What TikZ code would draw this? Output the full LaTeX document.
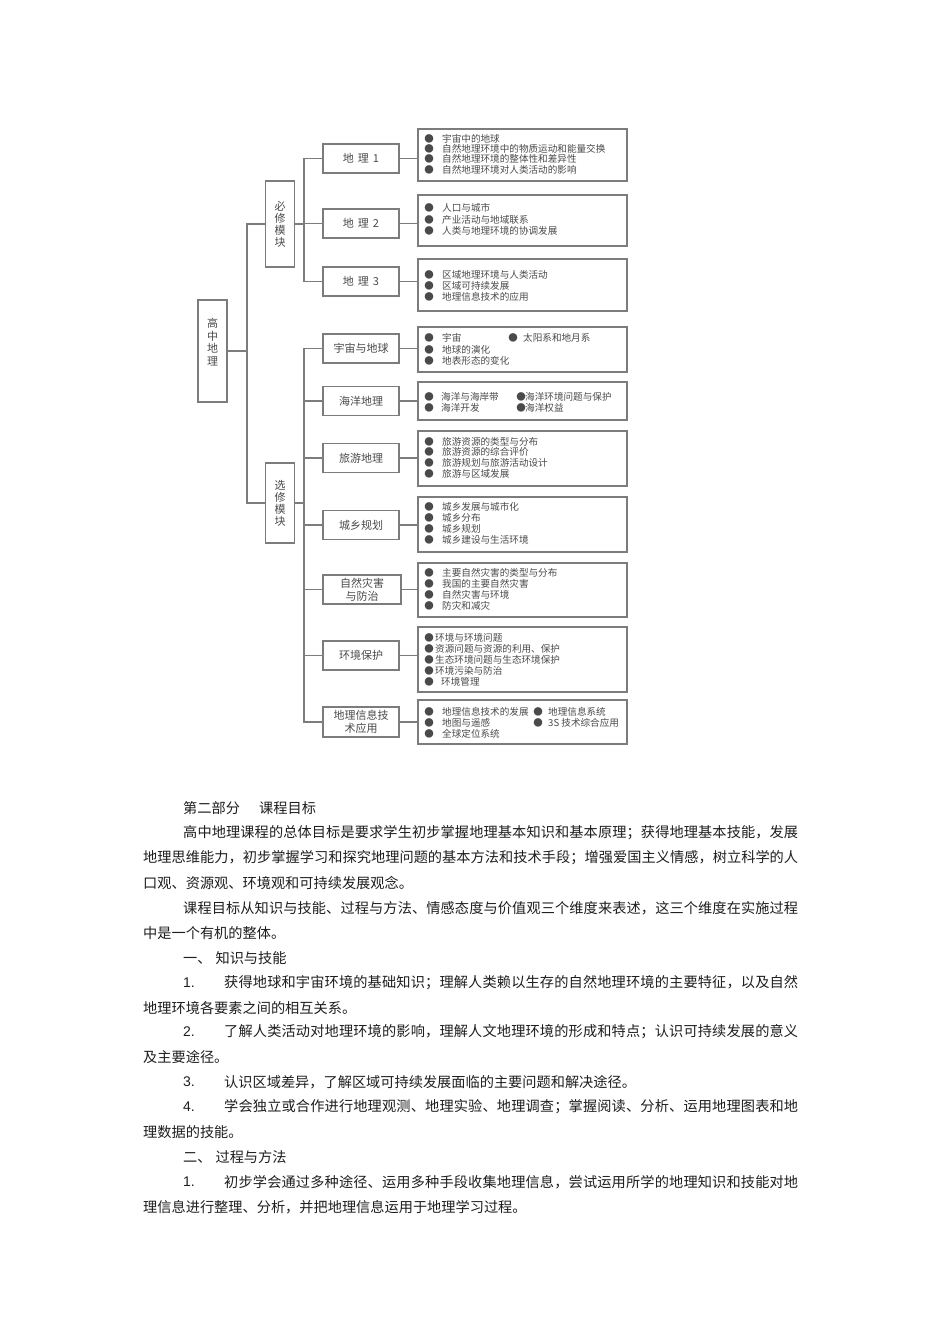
\documentclass[tikz,border=0pt]{standalone}
\usepackage{fontspec}
\setmainfont{Noto Sans CJK SC}
\newfontfamily\numfont{Liberation Sans}

\definecolor{linegray}{HTML}{7C7C7C}
\definecolor{boxtext}{HTML}{4A4A4A}
\definecolor{bodytext}{HTML}{1E1E1E}

% one line of text spread over a given width
\ExplSyntaxOn
\cs_new_protected:Npn \geo_spread:nn #1#2
  { \hbox_to_wd:nn {#1} { \tl_map_inline:nn {#2} { ##1 \hfil } \unskip } }
\cs_generate_variant:Nn \geo_spread:nn { no }
\NewDocumentCommand \spreadline { m m } { \geo_spread:no {#1} {#2} }
\ExplSyntaxOff

\begin{document}
\begin{tikzpicture}[x=1pt, y=-1pt,
  every node/.style={inner sep=0pt},
  frame/.style={draw=linegray, line width=1.2pt, text=boxtext, align=center},
  vbox/.style={frame, minimum width=29pt, font=\fontsize{11}{12}\selectfont},
  module/.style={frame, minimum width=76pt, minimum height=29pt, font=\fontsize{11}{13}\selectfont},
  listbox/.style={draw=linegray, line width=1.2pt, minimum width=209pt},
  dot/.style={text=boxtext, font=\fontsize{9.5}{9.5}\selectfont},
  item/.style={anchor=west, text=boxtext, font=\fontsize{9.6}{10}\selectfont},
  link/.style={draw=linegray, line width=1.2pt},
  body/.style={anchor=west, text=bodytext, font=\fontsize{14.2}{16}\selectfont}]

  \fill[white] (0,0) rectangle (950,1344);
  \useasboundingbox (0,0) rectangle (950,1344);

  % root and the two groups
  \node[vbox, minimum height=102pt] (gz) at (212.5,351) {};
  \node[text=boxtext, align=center, font=\fontsize{11}{12.7}\selectfont] (gz-text) at (212.5,342) {高\\中\\地\\理};
  \node[vbox, minimum height=86pt] (bx) at (280,224) {必\\修\\模\\块};
  \node[vbox, minimum height=80pt] (xx) at (280,503) {选\\修\\模\\块};
  \coordinate (t1) at (247,0);
  \coordinate (t2) at (304,0);

  % modules
  \foreach \n/\y/\t in {dl1/158.5/地\hspace{4pt}理\hspace{4pt}1, dl2/223.5/地\hspace{4pt}理\hspace{4pt}2,
      dl3/281.5/地\hspace{4pt}理\hspace{4pt}3}
    \node[module] (\n) at (361,\y) {\t};
  \foreach \n/\y/\t in {yzdq/348.5/宇宙与地球, hydl/401/海洋地理, lydl/458/旅游地理, cxgh/525/城乡规划,
      hjbh/655.5/环境保护}
    \node[module] (\n) at (361,\y) {\t};
  \node[module, minimum width=78pt] (zrzh) at (362,589.5) {自然灾害\\与防治};
  \node[module, minimum height=30pt] (dlxx) at (361,722) {地理信息技\\术应用};

  % content boxes
  \foreach \n/\y/\h in {dl1/155/52, dl2/220.5/51, dl3/285/52, yzdq/349.5/45, hydl/401/38,
      lydl/458.5/55, cxgh/524.5/55, zrzh/590/54, hjbh/659.5/65, dlxx/722/44}
    \node[listbox, minimum height=\h] (\n-list) at (522.5,\y) {};

  % connectors
  \draw[link] (bx.west) -- (bx.west -| t1) |- (gz.east);
  \draw[link] (xx.west) -- (xx.west -| t1) |- (gz.east);
  \foreach \n in {dl1,dl2,dl3}
    \draw[link] (\n.west) -- (\n.west -| t2) |- (bx.east);
  \foreach \n in {yzdq,hydl,lydl,cxgh,zrzh,hjbh,dlxx}
    \draw[link] (\n.west) -- (\n.west -| t2) |- (xx.east);
  \foreach \n in {dl1,dl2,dl3,yzdq,hydl,lydl,cxgh,zrzh,hjbh,dlxx}
    \draw[link] (\n.east) -- (\n.east -| \n-list.west);

  % list items
  \foreach \bx/\tx/\y/\t [count=\i] in {
      429/442/139/宇宙中的地球, 429/442/149/自然地理环境中的物质运动和能量交换,
      429/442/159/自然地理环境的整体性和差异性, 429/442/170/自然地理环境对人类活动的影响,
      429/442/208/人口与城市, 429/442/220/产业活动与地域联系, 429/442/231/人类与地理环境的协调发展,
      429/442/275/区域地理环境与人类活动, 429/442/286/区域可持续发展, 429/442/297/地理信息技术的应用,
      429/442/338/宇宙, 513/523/338/太阳系和地月系, 429/442/350/地球的演化, 429/442/361/地表形态的变化,
      429/441/397/海洋与海岸带, 521/525/397/海洋环境问题与保护, 429/441/408/海洋开发, 521/525/408/海洋权益,
      429/442/442/旅游资源的类型与分布, 429/442/452/旅游资源的综合评价,
      429/442/463/旅游规划与旅游活动设计, 429/442/474/旅游与区域发展,
      429/442/507/城乡发展与城市化, 429/442/518/城乡分布, 429/442/529/城乡规划, 429/442/540/城乡建设与生活环境,
      429/442/573/主要自然灾害的类型与分布, 429/442/584/我国的主要自然灾害,
      429/442/595/自然灾害与环境, 429/442/606/防灾和减灾,
      429/435/638/环境与环境问题, 429/435/649/资源问题与资源的利用、保护,
      429/435/660/生态环境问题与生态环境保护, 429/435/671/环境污染与防治, 429/441/682/环境管理,
      429/442/712/地理信息技术的发展, 538/548/712/地理信息系统,
      429/442/723/地图与遥感, 538/548/723/3S 技术综合应用, 429/442/734/全球定位系统} {
    \node[dot] (b\i) at (\bx,\y) {●};
    \node[item] (i\i) at (\tx,\y) {\t};
  }

  % text below the chart
  \foreach \x/\y/\t [count=\i] in {183/808/第二部分, 259/808/课程目标,
      143/883/口观、资源观、环境观和可持续发展观念。, 143/933/中是一个有机的整体。,
      183/958/一、\hspace{4pt}知识与技能, 143/1008/地理环境各要素之间的相互关系。,
      143/1057/及主要途径。, 224/1082/认识区域差异，了解区域可持续发展面临的主要问题和解决途径。,
      143/1132/理数据的技能。, 183/1157/二、\hspace{4pt}过程与方法,
      143/1207/理信息进行整理、分析，并把地理信息运用于地理学习过程。}
    \node[body] (p\i) at (\x,\y) {\t};
  \foreach \x/\y/\t [count=\i] in {
      183/833/高中地理课程的总体目标是要求学生初步掌握地理基本知识和基本原理；获得地理基本技能，发展,
      143/858/地理思维能力，初步掌握学习和探究地理问题的基本方法和技术手段；增强爱国主义情感，树立科学的人,
      183/908/课程目标从知识与技能、过程与方法、情感态度与价值观三个维度来表述，这三个维度在实施过程,
      224/983/获得地球和宇宙环境的基础知识；理解人类赖以生存的自然地理环境的主要特征，以及自然,
      224/1032/了解人类活动对地理环境的影响，理解人文地理环境的形成和特点；认识可持续发展的意义,
      224/1107/学会独立或合作进行地理观测、地理实验、地理调查；掌握阅读、分析、运用地理图表和地,
      224/1182/初步学会通过多种途径、运用多种手段收集地理信息，尝试运用所学的地理知识和技能对地} {
    \pgfmathsetmacro\w{798-\x}
    \node[body] (j\i) at (\x,\y) {\spreadline{\w pt}{\t}};
  }
  \foreach \y/\t [count=\i] in {983/1., 1032/2., 1082/3., 1107/4., 1182/1.}
    \node[body, font=\numfont\fontsize{14}{16}\selectfont] (n\i) at (183,\y) {\t};
\end{tikzpicture}
\end{document}
